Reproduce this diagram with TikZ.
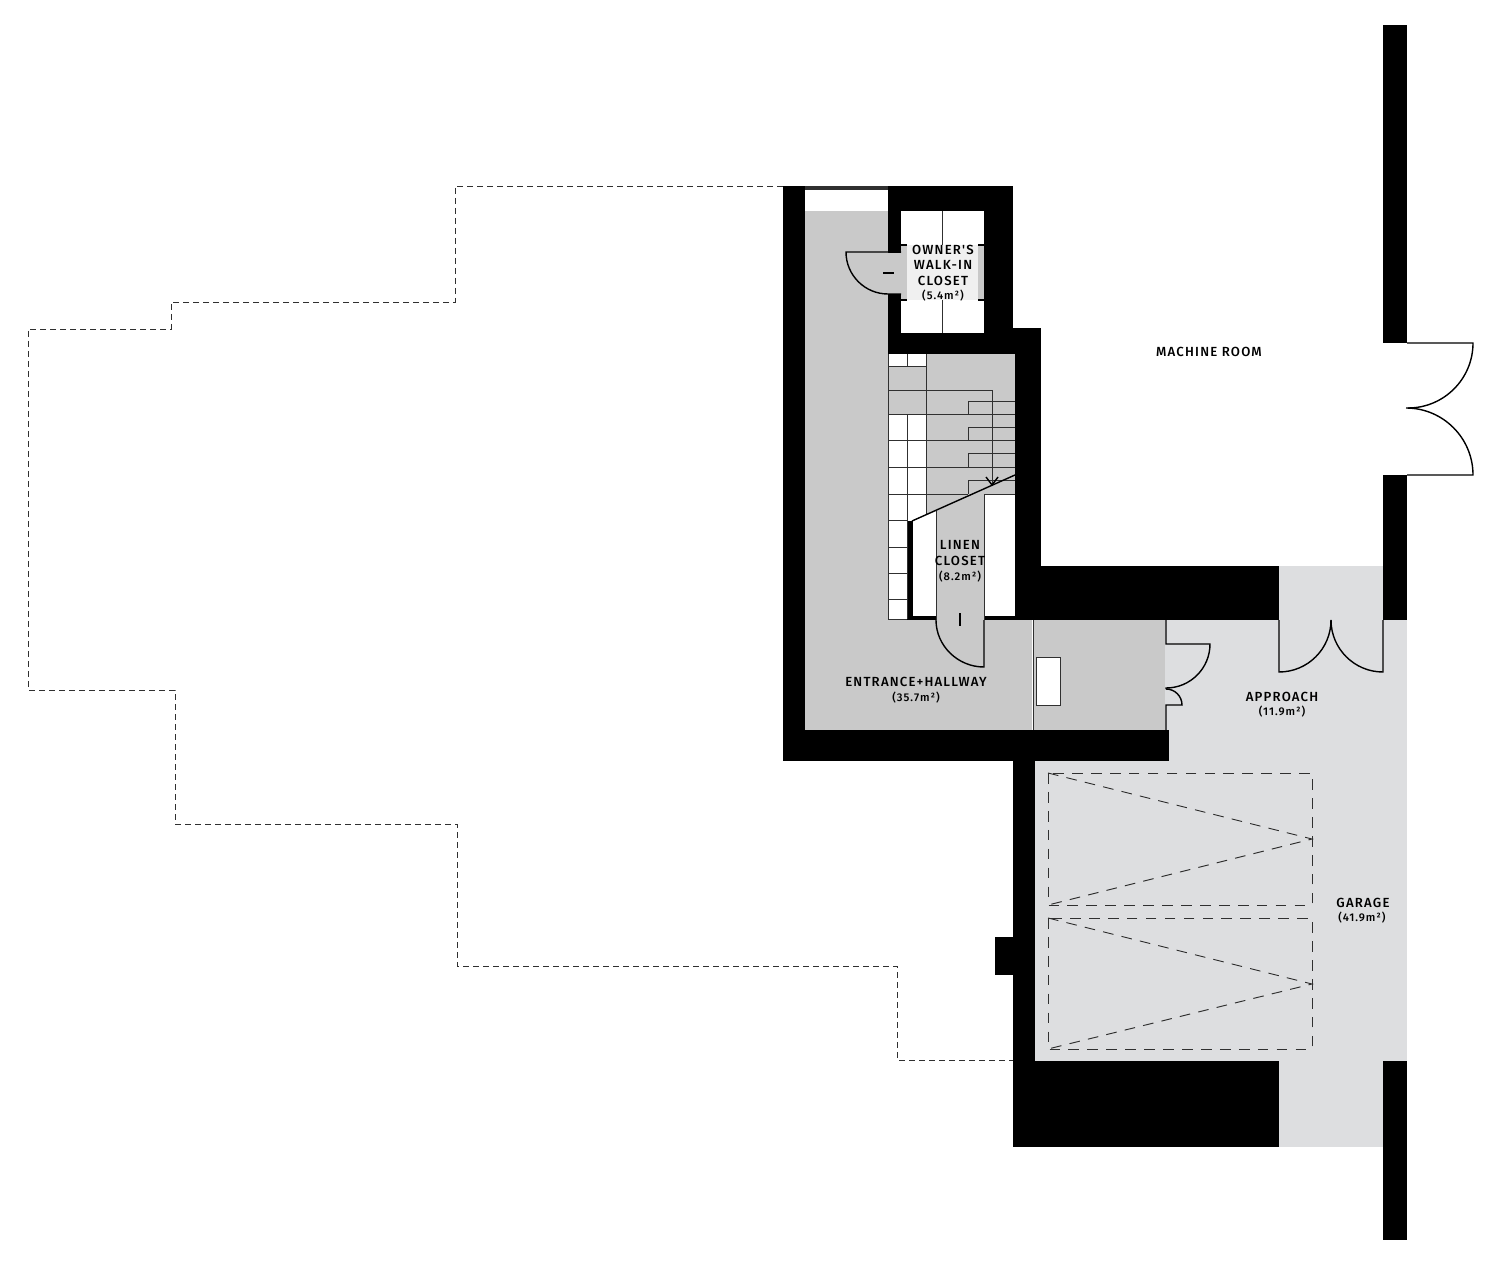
\documentclass[tikz,border=0pt]{standalone}
\usepackage{fontspec}
\setmainfont{Fira Sans Medium}[LetterSpace=9.0]
\newfontfamily\labelbold{Fira Sans Medium}[LetterSpace=9.0]
\definecolor{hallgray}{HTML}{C9C9C9}
\definecolor{garagegray}{HTML}{DDDEE0}
\definecolor{closetlight}{HTML}{F0F0F0}
\definecolor{inkline}{HTML}{303030}
\tikzset{
  x=0.75pt,y=-0.75pt,
  wall/.style={fill=black,draw=none},
  hall/.style={fill=hallgray,draw=none},
  garage/.style={fill=garagegray,draw=none},
  blank/.style={fill=white,draw=none},
  thin line/.style={draw=inkline,line width=0.7pt},
  door/.style={draw=black,line width=1.05pt},
  dash line/.style={draw=inkline,line width=0.72pt,dash pattern=on 8pt off 6.2pt},
  ghost/.style={draw=inkline,line width=0.6pt,dash pattern=on 4.5pt off 3pt},
  roomname/.style={font=\labelbold\fontsize{9.9pt}{11.6pt}\selectfont,text=black,align=center,inner sep=0pt},
  roomarea/.style={font=\fontsize{8.4pt}{11.6pt}\selectfont,text=black,align=center,inner sep=0pt},
}
\begin{document}
\begin{tikzpicture}
\useasboundingbox (0,0) rectangle (1500,1266);
\fill[white] (0,0) rectangle (1500,1266);

% ---- floor fills
\path[garage] (1035,761) rectangle (1407,1061);
\path[garage] (1165,620) rectangle (1407,761);
\path[garage] (1279,566) rectangle (1383,620);
\path[garage] (1279,1061) rectangle (1383,1147);
\path[hall] (805,211) rectangle (888,730);
\path[hall] (888,620) rectangle (1165,730);
\path[hall] (888,354) rectangle (1015,620);

% ---- owner's closet
\path[blank] (901,211) rectangle (984,333);
\path[hall] (901,245) rectangle (984,300);
\path[fill=closetlight] (907,245) rectangle (978,300);

% ---- walls
\path[wall] (783,186) rectangle (805,761);
\path[wall] (783,730) rectangle (1169,761);
\path[wall] (888,186) rectangle (1013,211);
\path[wall] (888,186) rectangle (901,354);
\path[wall] (984,186) rectangle (1013,354);
\path[wall] (888,333) rectangle (1041,354);
\path[wall] (1013,328) rectangle (1041,354);
\path[wall] (1015,354) rectangle (1041,620);
\path[wall] (1015,566) rectangle (1279,620);
\path[wall] (1013,761) rectangle (1035,1147);
\path[wall] (1013,1061) rectangle (1279,1147);
\path[wall] (995,937) rectangle (1013,975);
\path[wall] (1383,25) rectangle (1407,343);
\path[wall] (1383,475) rectangle (1407,620);
\path[wall] (1383,1061) rectangle (1407,1240);
\path[fill=inkline] (805,186) rectangle (888,190);

% ---- closet details
\path[hall] (888,253) rectangle (901,294);
\draw[thin line] (942,211) -- (942,245) (942,300) -- (942,333);
\draw[line width=1pt] (901,245) -- (907,245) (978,245) -- (984,245) (901,300) -- (907,300) (978,300) -- (984,300);
\path[hall] (846,252) arc[start angle=180,end angle=90,radius=42] -- (888,252) -- cycle;
\draw[door] (901,252) -- (846,252) arc[start angle=180,end angle=90,radius=42] -- (901,294);
\draw[door] (883,273) -- (894,273);

% ---- stair whites
\path[blank] (888,354) rectangle (926,366);
\path[blank] (888,414) rectangle (926,494);
\path[blank] (888,494) rectangle (907,619);
\path[blank] (907,494) -- (926,494) -- (926,515) -- (912,521) -- (907,521) -- cycle;
\path[wall] (907,521) rectangle (913,620);
\path[blank] (913,521) -- (936,511) -- (936,616) -- (913,616) -- cycle;
\path[blank] (984,494) rectangle (1015,616);
\path[wall] (913,616) rectangle (936,620);
\path[wall] (984,616) rectangle (1015,620);

% ---- stair lines
\draw[thin line] (888,354) -- (888,619) -- (907,619);
\draw[thin line] (907,354) -- (907,366) (907,414) -- (907,619);
\draw[thin line] (926,354) -- (926,515);
\draw[thin line] (888,366) -- (926,366);
\draw[thin line] (888,390) -- (992,390) -- (992,485);
\draw[thin line] (888,414) -- (1015,414);
\draw[thin line] (888,440) -- (1015,440);
\draw[thin line] (888,467) -- (1015,467);
\draw[thin line] (888,494) -- (968,494) (984,494) -- (1015,494);
\draw[thin line] (968,414) -- (968,401) -- (1015,401);
\draw[thin line] (968,440) -- (968,427) -- (1015,427);
\draw[thin line] (968,467) -- (968,453) -- (1015,453);
\draw[thin line] (968,494) -- (968,480) -- (1015,480);
\draw[thin line] (888,520) -- (907,520) (888,547) -- (907,547) (888,573) -- (907,573) (888,599) -- (907,599);
\draw[thin line] (936,511) -- (936,620) (984,494) -- (984,620);
\draw[door] (912,521) -- (1015,475);
\draw[door] (986,477) -- (992,485) -- (998,477);

% ---- linen closet door
\path[hall] (936,620) -- (984,620) -- (984,667) .. controls (958,667) and (936,646) .. (936,620);
\draw[door] (936,620) .. controls (936,646) and (958,667) .. (984,667) -- (984,620);
\draw[door] (960,613) -- (960,626);

% ---- hall divider and niche
\draw[draw=white,line width=1.6pt] (1033,620) -- (1033,730);
\draw[thin line] (1033,620) -- (1033,730);
\path[blank] (1036,657) rectangle (1060,705);
\draw[thin line] (1036,657) rectangle (1060,705);

% ---- entrance door
\draw[door] (1166,620) -- (1166,644) -- (1210,644) arc[start angle=0,end angle=90,radius=44] -- (1166,689);
\draw[door] (1166,689) arc[start angle=-90,end angle=0,radius=16] -- (1166,705) -- (1166,730);

% ---- approach double door
\draw[door] (1279,620) -- (1279,672) arc[start angle=90,end angle=0,radius=52];
\draw[door] (1383,620) -- (1383,672) arc[start angle=90,end angle=180,radius=52];

% ---- machine room double door
\draw[door] (1407,343) -- (1473,343) arc[start angle=0,end angle=90,radius=65];
\draw[door] (1407,475) -- (1473,475) arc[start angle=0,end angle=-90,radius=67];

% ---- garage dashes
\draw[dash line] (1048,773) rectangle (1312,905);
\draw[dash line] (1048,773) -- (1312,839) -- (1048,905);
\draw[dash line] (1048,918) rectangle (1312,1049);
\draw[dash line] (1048,918) -- (1312,984) -- (1048,1049);

% ---- neighbouring outline
\draw[ghost] (783,186) -- (455,186) -- (455,302) -- (171,302) -- (171,329) -- (28,329) -- (28,690) -- (175,690) -- (175,824) -- (457,824) -- (457,966) -- (897,966) -- (897,1060) -- (1013,1060);

% ---- labels
\node[roomname] (owner) at (943,265) {OWNER'S\\WALK-IN\\CLOSET};
\node[roomarea] (ownerarea) at (943,295.5) {(5.4m²)};
\node[roomname] (linen) at (960,553) {LINEN\\CLOSET};
\node[roomarea] (linenarea) at (960,576.5) {(8.2m²)};
\node[roomname] (machine) at (1209,351.5) {MACHINE ROOM};
\node[roomname] (entrance) at (916,682) {ENTRANCE+HALLWAY};
\node[roomarea] (entrancearea) at (916,697.5) {(35.7m²)};
\node[roomname] (approach) at (1282,696.5) {APPROACH};
\node[roomarea] (approacharea) at (1282,711.5) {(11.9m²)};
\node[roomname] (garage) at (1363,902.5) {GARAGE};
\node[roomarea] (garagearea) at (1362,917.5) {(41.9m²)};
\end{tikzpicture}
\end{document}
